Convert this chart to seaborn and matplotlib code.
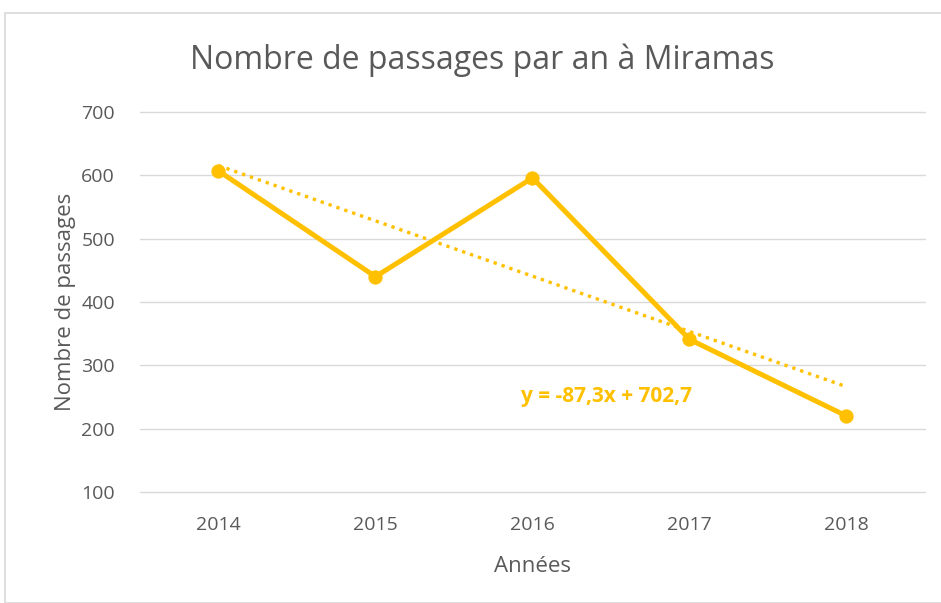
import numpy as np
import pandas as pd
import seaborn as sns
import matplotlib.pyplot as plt
from matplotlib.patches import Rectangle

annees = [2014, 2015, 2016, 2017, 2018]
passages = [607, 440, 596, 341, 220]
y_ticks = [100, 200, 300, 400, 500, 600, 700]

gold = '#FFC000'
grey = '#595959'

df = pd.DataFrame({'Années': annees, 'Passages': passages})

# tendance linéaire (x = 1..5 comme dans Excel)
rang = np.arange(1, len(annees) + 1)
pente, origine = np.polyfit(rang, passages, 1)
df['Tendance'] = pente * rang + origine

sns.set_theme(style='white')
plt.rcParams['font.family'] = ['Open Sans', 'DejaVu Sans']

fig = plt.figure(figsize=(9.41, 6.03), dpi=100)
ax = fig.add_axes([140 / 941, 1 - 492 / 603, 785 / 941, 380 / 603])

sns.lineplot(data=df, x='Années', y='Tendance', ax=ax, color=gold,
             linestyle=(0, (1, 1.5)), linewidth=2.4)
sns.lineplot(data=df, x='Années', y='Passages', ax=ax, color=gold,
             linewidth=3.6, marker='o', markersize=9.5, markeredgecolor=gold)

ax.set_xlim(2013.5, 2018.5)
ax.set_ylim(100, 700)
ax.set_yticks(y_ticks)
ax.set_xticks(annees)
ax.yaxis.grid(True, color='#D9D9D9', linewidth=1)
for gl in ax.get_ygridlines():
    gl.set_clip_on(False)
ax.set_axisbelow(True)
for s in ax.spines.values():
    s.set_visible(False)
ax.tick_params(axis='both', colors=grey, labelsize=14, length=0)
ax.tick_params(axis='x', pad=17)
ax.tick_params(axis='y', pad=18)

ax.set_xlabel('Années', color=grey, fontsize=16, labelpad=16)
ax.set_ylabel('Nombre de passages', color=grey, fontsize=16, labelpad=4)
fig.text(482 / 941, 1 - 60 / 603, 'Nombre de passages par an à Miramas',
         ha='center', va='center', color=grey, fontsize=23)

eq = f'y = {pente:.1f}x + {origine:.1f}'.replace('.', ',')
ax.text(2016.47, 251, eq, color=gold, fontsize=15, fontweight='bold',
        ha='center', va='center', transform=ax.transData)

fig.add_artist(Rectangle((5 / 941, 0), 1, 1 - 13 / 603, transform=fig.transFigure,
                         fill=False, edgecolor='#D9D9D9', linewidth=1.2))

fig.savefig('out.png', dpi=100)
